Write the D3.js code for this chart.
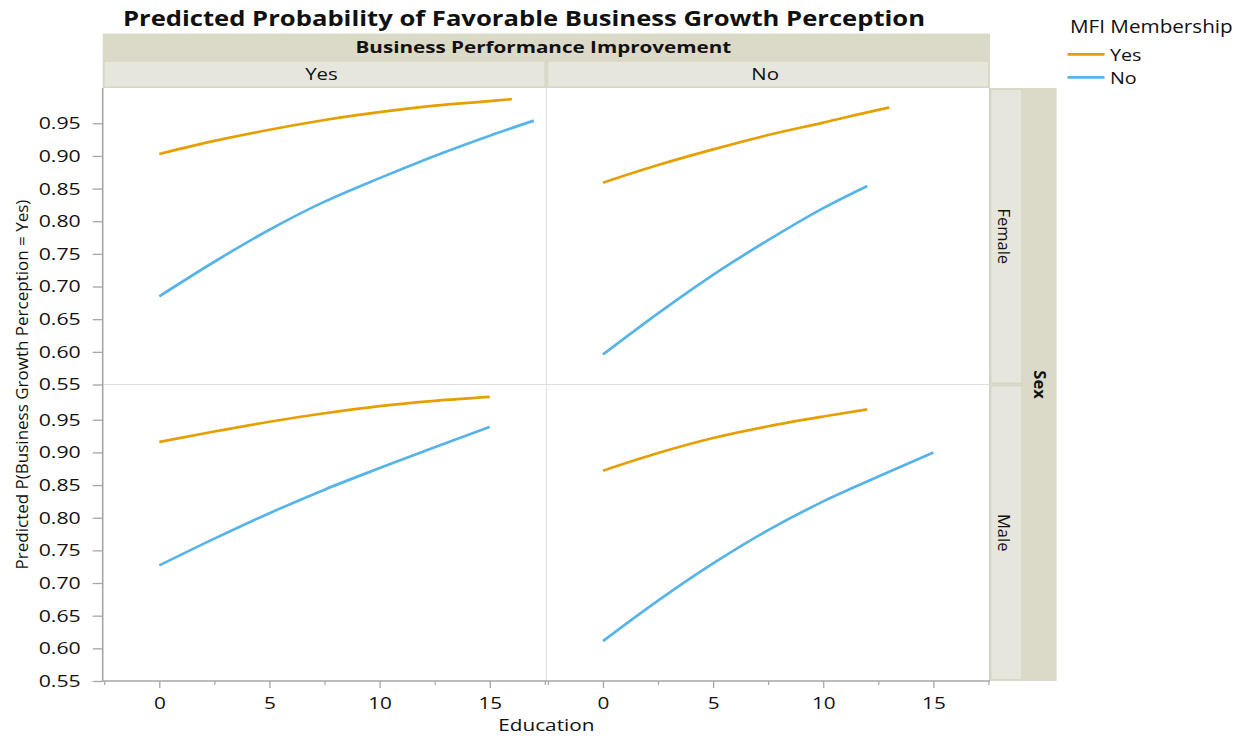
<!DOCTYPE html>
<html>
<head>
<meta charset="utf-8">
<script src="https://cdn.jsdelivr.net/npm/d3@7"></script>
<style>
  html, body { margin: 0; padding: 0; background: #ffffff; }
  svg { display: block; }
  text { font-family: "Open Sans", "Noto Sans", sans-serif; fill: #111; }
</style>
</head>
<body>
<svg id="chart" width="1249" height="738"></svg>
<script>
// ---- Facet levels and tick labels ----
const bpiLevels = ["Yes", "No"];          // columns: Business Performance Improvement
const sexLevels = ["Female", "Male"];     // rows: Sex
const mfiLevels = ["Yes", "No"];          // series: MFI Membership
const mfiColors = ["#E69F00", "#56B4E9"];
const educationTicks = [0, 5, 10, 15];
const educationMinorTicks = [-2.5, 2.5, 7.5, 12.5, 17.5];
const probabilityTicks = [0.55, 0.60, 0.65, 0.70, 0.75, 0.80, 0.85, 0.90, 0.95];

// ---- Predicted probabilities by years of education ----
// Female, BPI = Yes
const femaleBpiYesMfiYesEdu  = [0, 2.5, 5, 7.5, 10, 12.5, 15, 16];
const femaleBpiYesMfiYesProb = [0.903, 0.923, 0.940, 0.955, 0.967, 0.977, 0.984, 0.987];
const femaleBpiYesMfiNoEdu   = [0, 2.5, 5, 7.5, 10, 12.5, 15, 17];
const femaleBpiYesMfiNoProb  = [0.685, 0.738, 0.787, 0.830, 0.866, 0.900, 0.931, 0.954];
// Female, BPI = No
const femaleBpiNoMfiYesEdu   = [0, 2.5, 5, 7.5, 10, 12.5, 13];
const femaleBpiNoMfiYesProb  = [0.859, 0.886, 0.910, 0.932, 0.951, 0.9705, 0.974];
const femaleBpiNoMfiNoEdu    = [0, 2.5, 5, 7.5, 10, 12];
const femaleBpiNoMfiNoProb   = [0.596, 0.659, 0.718, 0.771, 0.820, 0.854];
// Male, BPI = Yes
const maleBpiYesMfiYesEdu    = [0, 2.5, 5, 7.5, 10, 12.5, 15];
const maleBpiYesMfiYesProb   = [0.916, 0.932, 0.947, 0.960, 0.971, 0.979, 0.985];
const maleBpiYesMfiNoEdu     = [0, 2.5, 5, 7.5, 10, 12.5, 15];
const maleBpiYesMfiNoProb    = [0.727, 0.768, 0.807, 0.843, 0.876, 0.908, 0.939];
// Male, BPI = No
const maleBpiNoMfiYesEdu     = [0, 2.5, 5, 7.5, 10, 12];
const maleBpiNoMfiYesProb    = [0.872, 0.899, 0.922, 0.940, 0.955, 0.966];
const maleBpiNoMfiNoEdu      = [0, 2.5, 5, 7.5, 10, 12.5, 15];
const maleBpiNoMfiNoProb     = [0.611, 0.673, 0.730, 0.781, 0.825, 0.863, 0.900];

// panel lookup: [sex][bpi] -> list of series, one per MFI level
const panels = [
  [ // Female
    [[femaleBpiYesMfiYesEdu, femaleBpiYesMfiYesProb], [femaleBpiYesMfiNoEdu, femaleBpiYesMfiNoProb]],
    [[femaleBpiNoMfiYesEdu, femaleBpiNoMfiYesProb],   [femaleBpiNoMfiNoEdu, femaleBpiNoMfiNoProb]]
  ],
  [ // Male
    [[maleBpiYesMfiYesEdu, maleBpiYesMfiYesProb], [maleBpiYesMfiNoEdu, maleBpiYesMfiNoProb]],
    [[maleBpiNoMfiYesEdu, maleBpiNoMfiYesProb],   [maleBpiNoMfiNoEdu, maleBpiNoMfiNoProb]]
  ]
];

// ---- Layout ----
const gridLeft = 102.7, gridRight = 990;
const gridTop = 88, gridBottom = 681;
const colW = (gridRight - gridLeft) / 2;
const rowH = (gridBottom - gridTop) / 2;
const stripOuterTop = 33.5, stripInnerTop = 60.7;
const sideInnerW = 32.3, sideOuterW = 34.4;
const stripDark = "#dbd9c8", stripLight = "#e7e6dd", stripEdge = "#d2d0bd";
const axisGray = "#a6a6a6", gridLine = "#dedede";

const svg = d3.select("#chart");

// widen a horizontal label by a factor (glyphs and spacing)
function widen(sel, factor) {
  sel.each(function () {
    const w = this.getComputedTextLength();
    if (w > 0) {
      this.setAttribute("textLength", (w * factor).toFixed(2));
      this.setAttribute("lengthAdjust", "spacingAndGlyphs");
    }
  });
  return sel;
}

const colX = c => gridLeft + c * colW;
const rowY = r => gridTop + r * rowH;

const xScales = bpiLevels.map((_, c) =>
  d3.scaleLinear().domain([-2.57, 17.57]).range([colX(c), colX(c) + colW]));
const yScales = sexLevels.map((_, r) =>
  d3.scaleLinear().domain([0.55, 1.004]).range([rowY(r) + rowH, rowY(r)]));

// ---- Title ----
widen(svg.append("text")
  .attr("x", 524).attr("y", 26)
  .attr("text-anchor", "middle")
  .style("font-weight", "bold").style("font-size", "21px")
  .text("Predicted Probability of Favorable Business Growth Perception"), 1.22);

// ---- Top strips (Business Performance Improvement) ----
svg.append("rect")
  .attr("x", gridLeft).attr("y", stripOuterTop)
  .attr("width", gridRight - gridLeft).attr("height", gridTop - stripOuterTop)
  .attr("fill", stripDark);
widen(svg.append("text")
  .attr("x", (gridLeft + gridRight) / 2 - 3).attr("y", 53)
  .attr("text-anchor", "middle")
  .style("font-weight", "bold").style("font-size", "16.5px")
  .text("Business Performance Improvement"), 1.25);

bpiLevels.forEach((lvl, c) => {
  svg.append("rect")
    .attr("x", colX(c) + 1.5).attr("y", stripInnerTop + 0.5)
    .attr("width", colW - 3).attr("height", gridTop - stripInnerTop - 1.5)
    .attr("fill", stripLight).attr("stroke", stripEdge).attr("stroke-width", 0.6);
  widen(svg.append("text")
    .attr("x", colX(c) + colW / 2 - 3).attr("y", 80)
    .attr("text-anchor", "middle")
    .style("font-size", "17px")
    .text(lvl), 1.2);
});

// ---- Right strips (Sex) ----
const sideX = gridRight;
svg.append("rect")
  .attr("x", sideX).attr("y", gridTop)
  .attr("width", sideInnerW + sideOuterW).attr("height", gridBottom - gridTop)
  .attr("fill", stripDark);
sexLevels.forEach((lvl, r) => {
  svg.append("rect")
    .attr("x", sideX + 1).attr("y", rowY(r) + 1.5)
    .attr("width", sideInnerW - 1.5).attr("height", rowH - 3)
    .attr("fill", stripLight).attr("stroke", stripEdge).attr("stroke-width", 0.6);
  svg.append("text")
    .attr("transform", `translate(${sideX + 8},${rowY(r) + rowH / 2}) rotate(90)`)
    .attr("text-anchor", "middle")
    .style("font-size", "16.5px")
    .text(lvl);
});
svg.append("text")
  .attr("transform", `translate(${sideX + sideInnerW + sideOuterW / 2 - 6},${(gridTop + gridBottom) / 2}) rotate(90)`)
  .attr("text-anchor", "middle")
  .style("font-weight", "bold").style("font-size", "16.5px")
  .text("Sex");

// ---- Panels ----
const line = d3.line().curve(d3.curveMonotoneX);

sexLevels.forEach((_, r) => {
  bpiLevels.forEach((_, c) => {
    svg.append("rect")
      .attr("x", colX(c)).attr("y", rowY(r))
      .attr("width", colW).attr("height", rowH)
      .attr("fill", "#ffffff");
  });
});

// panel separators
svg.append("line")
  .attr("x1", gridLeft).attr("x2", gridRight)
  .attr("y1", rowY(1)).attr("y2", rowY(1))
  .attr("stroke", gridLine).attr("stroke-width", 1);
svg.append("line")
  .attr("x1", colX(1)).attr("x2", colX(1))
  .attr("y1", gridTop).attr("y2", gridBottom)
  .attr("stroke", gridLine).attr("stroke-width", 1);
svg.append("line")
  .attr("x1", gridRight - 0.5).attr("x2", gridRight - 0.5)
  .attr("y1", gridTop).attr("y2", gridBottom)
  .attr("stroke", stripEdge).attr("stroke-width", 1);

// prediction curves
sexLevels.forEach((_, r) => {
  bpiLevels.forEach((_, c) => {
    const x = xScales[c], y = yScales[r];
    panels[r][c].forEach(([edu, prob], s) => {
      const pts = edu.map((e, i) => [x(e), y(prob[i])]);
      svg.append("path")
        .attr("d", line(pts))
        .attr("fill", "none")
        .attr("stroke", mfiColors[s])
        .attr("stroke-width", 2.7);
    });
  });
});

// ---- Y axes (one per row) ----
sexLevels.forEach((_, r) => {
  const ax = svg.append("g")
    .attr("transform", `translate(${gridLeft},0)`)
    .call(d3.axisLeft(yScales[r]).tickValues(probabilityTicks)
      .tickFormat(d3.format(".2f")).tickSize(10).tickPadding(12));
  ax.select(".domain").remove();
  ax.selectAll(".tick line").attr("stroke", axisGray).attr("stroke-width", 1.3);
  widen(ax.selectAll(".tick text").style("font-size", "17px")
    .style("font-family", "Open Sans").attr("fill", "#111"), 1.25);
});

// ---- X axes (one per column) ----
bpiLevels.forEach((_, c) => {
  const minor = svg.append("g")
    .attr("transform", `translate(0,${gridBottom})`)
    .call(d3.axisBottom(xScales[c]).tickValues(educationMinorTicks).tickFormat("").tickSize(4));
  minor.select(".domain").remove();
  minor.selectAll(".tick line").attr("stroke", axisGray).attr("stroke-width", 1.2);

  const ax = svg.append("g")
    .attr("transform", `translate(0,${gridBottom})`)
    .call(d3.axisBottom(xScales[c]).tickValues(educationTicks).tickSize(7).tickPadding(9));
  ax.select(".domain").remove();
  ax.selectAll(".tick line").attr("stroke", axisGray).attr("stroke-width", 1.3);
  widen(ax.selectAll(".tick text").style("font-size", "17px")
    .style("font-family", "Open Sans").attr("fill", "#111"), 1.22);
});

// axis lines
svg.append("line")
  .attr("x1", gridLeft).attr("x2", gridLeft)
  .attr("y1", gridTop).attr("y2", gridBottom + 0.5)
  .attr("stroke", axisGray).attr("stroke-width", 1.6);
svg.append("line")
  .attr("x1", gridLeft).attr("x2", gridRight)
  .attr("y1", gridBottom).attr("y2", gridBottom)
  .attr("stroke", axisGray).attr("stroke-width", 1.6);

// ---- Axis titles ----
widen(svg.append("text")
  .attr("x", (gridLeft + gridRight) / 2).attr("y", 731)
  .attr("text-anchor", "middle")
  .style("font-size", "17px")
  .text("Education"), 1.22);
svg.append("text")
  .attr("transform", `translate(28,${(gridTop + gridBottom) / 2}) rotate(-90)`)
  .attr("text-anchor", "middle")
  .style("font-size", "17px")
  .text("Predicted P(Business Growth Perception = Yes)");

// ---- Legend ----
const legend = svg.append("g");
widen(legend.append("text")
  .attr("x", 1070).attr("y", 33)
  .style("font-size", "17.5px")
  .text("MFI Membership"), 1.18);
mfiLevels.forEach((lvl, i) => {
  const ly = 54.3 + i * 23;
  legend.append("line")
    .attr("x1", 1067.5).attr("x2", 1104.5)
    .attr("y1", ly).attr("y2", ly)
    .attr("stroke", mfiColors[i]).attr("stroke-width", 2.8);
  widen(legend.append("text")
    .attr("x", 1110).attr("y", ly + 6.3)
    .style("font-size", "17px")
    .text(lvl), 1.16);
});
</script>
</body>
</html>
